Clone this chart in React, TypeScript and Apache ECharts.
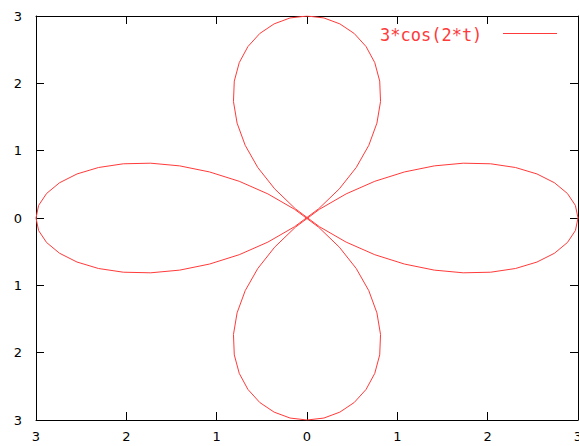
import React, { useEffect, useRef } from "react";
import * as echarts from "echarts";

const seriesName = "3*cos(2*t)";
const xTickLabels = ["3", "2", "1", "0", "1", "2", "3"];
const yTickLabels = ["3", "2", "1", "0", "1", "2", "3"];

// Points of the polar curve (x, y)
const curvePoints: [number, number][] = [
  [3.0, 0.0], [2.971, 0.187], [2.883, 0.364], [2.74, 0.523], [2.546, 0.654],
  [2.308, 0.75], [2.033, 0.805], [1.73, 0.814], [1.409, 0.774], [1.079, 0.684],
  [0.75, 0.545], [0.433, 0.358], [0.137, 0.129], [-0.129, -0.137], [-0.358, -0.433],
  [-0.545, -0.75], [-0.684, -1.079], [-0.774, -1.409], [-0.814, -1.73], [-0.805, -2.033],
  [-0.75, -2.308], [-0.654, -2.546], [-0.523, -2.74], [-0.364, -2.883], [-0.187, -2.971],
  [0.0, -3.0],
  [0.187, -2.971], [0.364, -2.883], [0.523, -2.74], [0.654, -2.546], [0.75, -2.308],
  [0.805, -2.033], [0.814, -1.73], [0.774, -1.409], [0.684, -1.079], [0.545, -0.75],
  [0.358, -0.433], [0.129, -0.137], [-0.137, 0.129], [-0.433, 0.358], [-0.75, 0.545],
  [-1.079, 0.684], [-1.409, 0.774], [-1.73, 0.814], [-2.033, 0.805], [-2.308, 0.75],
  [-2.546, 0.654], [-2.74, 0.523], [-2.883, 0.364], [-2.971, 0.187], [-3.0, 0.0],
  [-2.971, -0.187], [-2.883, -0.364], [-2.74, -0.523], [-2.546, -0.654], [-2.308, -0.75],
  [-2.033, -0.805], [-1.73, -0.814], [-1.409, -0.774], [-1.079, -0.684], [-0.75, -0.545],
  [-0.433, -0.358], [-0.137, -0.129], [0.129, 0.137], [0.358, 0.433], [0.545, 0.75],
  [0.684, 1.079], [0.774, 1.409], [0.814, 1.73], [0.805, 2.033], [0.75, 2.308],
  [0.654, 2.546], [0.523, 2.74], [0.364, 2.883], [0.187, 2.971], [0.0, 3.0],
  [-0.187, 2.971], [-0.364, 2.883], [-0.523, 2.74], [-0.654, 2.546], [-0.75, 2.308],
  [-0.805, 2.033], [-0.814, 1.73], [-0.774, 1.409], [-0.684, 1.079], [-0.545, 0.75],
  [-0.358, 0.433], [-0.129, 0.137], [0.137, -0.129], [0.433, -0.358], [0.75, -0.545],
  [1.079, -0.684], [1.409, -0.774], [1.73, -0.814], [2.033, -0.805], [2.308, -0.75],
  [2.546, -0.654], [2.74, -0.523], [2.883, -0.364], [2.971, -0.187], [3.0, 0.0],
];

const AXIS_MIN = -3;
const AXIS_MAX = 3;
const AXIS_STEP = 1;

const W = 579;
const H = 446;
const lineColor = "#ff3a3a";
const frameColor = "#000";
const labelFont = "DejaVu Sans";

export default function App() {
  const ref = useRef<HTMLDivElement>(null);

  useEffect(() => {
    if (!ref.current) return;
    const chart = echarts.init(ref.current, undefined, { renderer: "svg", width: W, height: H });

    const baseAxis = {
      type: "value" as const,
      min: AXIS_MIN,
      max: AXIS_MAX,
      interval: AXIS_STEP,
      splitLine: { show: false },
      axisLine: { show: true, onZero: false, lineStyle: { color: frameColor, width: 1 } },
      axisTick: { show: true, inside: true, length: 8, lineStyle: { color: frameColor, width: 1 } },
    };

    chart.setOption({
      animation: false,
      backgroundColor: "#fff",
      grid: {
        left: 36,
        top: 16,
        width: 542,
        height: 404,
        containLabel: false,
        outerBoundsMode: "none",
      },
      legend: { show: false },
      graphic: [
        {
          type: "text",
          x: 380,
          y: 26,
          style: {
            text: seriesName,
            fill: lineColor,
            fontFamily: "DejaVu Sans Mono",
            fontSize: 17,
          },
        },
        {
          type: "line",
          shape: { x1: 503, y1: 33.5, x2: 557, y2: 33.5 },
          style: { stroke: lineColor, lineWidth: 1 },
        },
      ],
      xAxis: [
        {
          ...baseAxis,
          position: "bottom",
          axisLabel: {
            show: true,
            margin: 10,
            color: "#000",
            fontFamily: labelFont,
            fontSize: 13,
            formatter: (_v: number, i: number) => xTickLabels[i] ?? "",
          },
        },
        { ...baseAxis, position: "top", axisLabel: { show: false } },
      ],
      yAxis: [
        {
          ...baseAxis,
          position: "left",
          axisLabel: {
            show: true,
            margin: 14,
            color: "#000",
            fontFamily: labelFont,
            fontSize: 13,
            formatter: (_v: number, i: number) => yTickLabels[yTickLabels.length - 1 - i] ?? "",
          },
        },
        { ...baseAxis, position: "right", axisLabel: { show: false } },
      ],
      series: [
        {
          name: seriesName,
          type: "line",
          xAxisIndex: 0,
          yAxisIndex: 0,
          data: curvePoints,
          showSymbol: false,
          symbol: "none",
          smooth: false,
          lineStyle: { color: lineColor, width: 1 },
          itemStyle: { color: lineColor },
        },
      ],
    });

    return () => chart.dispose();
  }, []);

  return (
    <div
      ref={ref}
      style={{ position: "fixed", left: 0, top: 0, width: W, height: H, background: "#fff" }}
    />
  );
}
